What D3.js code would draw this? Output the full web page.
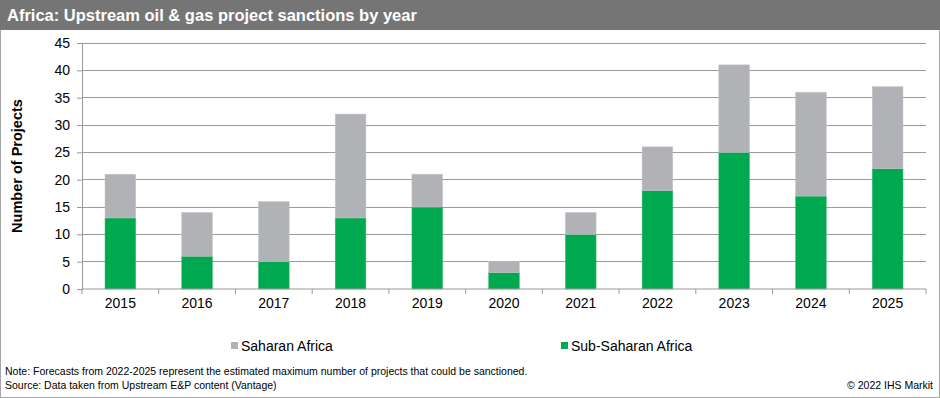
<!DOCTYPE html>
<html>
<head>
<meta charset="utf-8">
<script src="https://cdn.jsdelivr.net/npm/d3@7"></script>
<style>
  body { margin: 0; background: #fff; }
  svg { display: block; font-family: Arial, "Liberation Sans", sans-serif; }
</style>
</head>
<body>
<svg id="chart"></svg>
<script>
const years = ["2015", "2016", "2017", "2018", "2019", "2020", "2021", "2022", "2023", "2024", "2025"];
const subSaharan = [13, 6, 5, 13, 15, 3, 10, 18, 25, 17, 22];
const saharan = [8, 8, 11, 19, 6, 2, 4, 8, 16, 19, 15];
const yTicks = [0, 5, 10, 15, 20, 25, 30, 35, 40, 45];

const width = 940;
const height = 398;
const margin = { top: 43, right: 14, bottom: 109, left: 82 };

const svg = d3.select("#chart")
  .attr("width", width)
  .attr("height", height);

// frame + title bar
svg.append("rect")
  .attr("x", 0.5).attr("y", 0.5)
  .attr("width", width - 1).attr("height", height - 1)
  .attr("fill", "#fff").attr("stroke", "#a6a6a6");

svg.append("rect")
  .attr("x", 0).attr("y", 0)
  .attr("width", width).attr("height", 30)
  .attr("fill", "#757575");

svg.append("text")
  .attr("x", 7).attr("y", 21)
  .attr("fill", "#fff")
  .attr("font-size", 16.5)
  .attr("font-weight", "bold")
  .text("Africa: Upstream oil & gas project sanctions by year");

const x = d3.scaleBand()
  .domain(years)
  .range([margin.left, width - margin.right])
  .paddingInner(0.6)
  .paddingOuter(0.3);

const y = d3.scaleLinear()
  .domain([0, 45])
  .range([height - margin.bottom, margin.top]);

// gridlines
svg.append("g")
  .selectAll("line")
  .data(yTicks.slice(1))
  .join("line")
  .attr("x1", margin.left).attr("x2", width - margin.right)
  .attr("y1", d => y(d)).attr("y2", d => y(d))
  .attr("stroke", "#9b9b9b").attr("stroke-width", 1)
  .attr("shape-rendering", "crispEdges");

// stacked bars
const stacked = years.map((yr, i) => ({ year: yr, sub: subSaharan[i], sah: saharan[i] }));

svg.append("g")
  .selectAll("rect")
  .data(stacked)
  .join("rect")
  .attr("x", d => x(d.year))
  .attr("width", x.bandwidth())
  .attr("y", d => y(d.sub))
  .attr("height", d => y(0) - y(d.sub))
  .attr("fill", "#00a84f")
  .attr("stroke", "#3cbb72").attr("stroke-width", 0.5);

svg.append("g")
  .selectAll("rect")
  .data(stacked)
  .join("rect")
  .attr("x", d => x(d.year))
  .attr("width", x.bandwidth())
  .attr("y", d => y(d.sub + d.sah))
  .attr("height", d => y(d.sub) - y(d.sub + d.sah))
  .attr("fill", "#b1b2b6")
  .attr("stroke", "#c4c5c8").attr("stroke-width", 0.5);

// y axis
const yAxis = svg.append("g")
  .attr("transform", `translate(${margin.left},0)`)
  .call(d3.axisLeft(y).tickValues(yTicks).tickSize(5).tickPadding(7));
yAxis.select(".domain").attr("stroke", "#999");
yAxis.selectAll(".tick line").attr("stroke", "#999");
yAxis.selectAll(".tick text")
  .attr("font-size", 14)
  .attr("font-family", "Arial, 'Liberation Sans', sans-serif")
  .attr("fill", "#000");

// x axis with ticks at band boundaries
const xAxisG = svg.append("g")
  .attr("transform", `translate(0,${y(0)})`);
xAxisG.append("line")
  .attr("x1", margin.left).attr("x2", width - margin.right)
  .attr("stroke", "#999");
const step = x.step();
const bounds = years.map((d, i) => margin.left + step * i).concat([width - margin.right]);
xAxisG.selectAll(".xt")
  .data(bounds)
  .join("line")
  .attr("class", "xt")
  .attr("x1", d => d).attr("x2", d => d)
  .attr("y1", 0).attr("y2", 5)
  .attr("stroke", "#999");
xAxisG.selectAll("text")
  .data(years)
  .join("text")
  .attr("x", d => x(d) + x.bandwidth() / 2)
  .attr("y", 19)
  .attr("text-anchor", "middle")
  .attr("font-size", 14)
  .text(d => d);

// y label
svg.append("text")
  .attr("transform", `translate(22,${(y(0) + y(45)) / 2}) rotate(-90)`)
  .attr("text-anchor", "middle")
  .attr("font-size", 14.5)
  .attr("font-weight", "bold")
  .text("Number of Projects");

// legend
const legend = [
  { name: "Saharan Africa", color: "#b1b2b6", x: 231 },
  { name: "Sub-Saharan Africa", color: "#00a84f", x: 561 }
];
const lg = svg.append("g");
lg.selectAll("rect")
  .data(legend)
  .join("rect")
  .attr("x", d => d.x).attr("y", 342)
  .attr("width", 7).attr("height", 7)
  .attr("fill", d => d.color);
lg.selectAll("text")
  .data(legend)
  .join("text")
  .attr("x", d => d.x + 10).attr("y", 351)
  .attr("font-size", 14)
  .text(d => d.name);

// footnotes
svg.append("text")
  .attr("x", 5).attr("y", 375)
  .attr("font-size", 10.5)
  .text("Note: Forecasts from 2022-2025 represent the estimated maximum number of projects that could be sanctioned.");
svg.append("text")
  .attr("x", 5).attr("y", 389)
  .attr("font-size", 10.5)
  .text("Source: Data taken from Upstream E&P content (Vantage)");
svg.append("text")
  .attr("x", 933).attr("y", 389)
  .attr("text-anchor", "end")
  .attr("font-size", 10.5)
  .text("© 2022 IHS Markit");
</script>
</body>
</html>
